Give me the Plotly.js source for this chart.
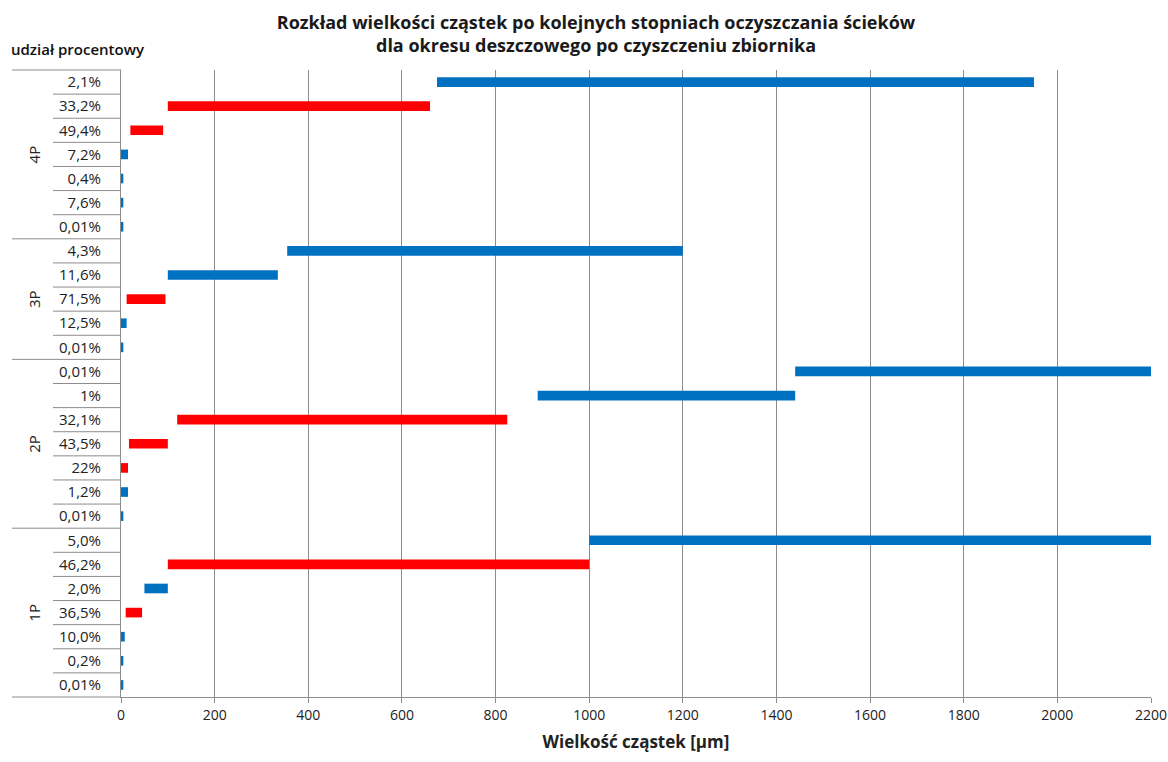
<!DOCTYPE html>
<html><head><meta charset="utf-8">
<script src="https://cdn.plot.ly/plotly-3.0.1.min.js"></script>
<style>html,body{margin:0;padding:0;background:#fff}#chart{width:1168px;height:762px}</style>
</head><body><div id="chart"></div>
<script>
// Data (top row first)
const groupNames = ['4P','3P','2P','1P'];
const groupSizes = [7,5,7,7];
const rowLabels = ['2,1%','33,2%','49,4%','7,2%','0,4%','7,6%','0,01%',
                   '4,3%','11,6%','71,5%','12,5%','0,01%',
                   '0,01%','1%','32,1%','43,5%','22%','1,2%','0,01%',
                   '5,0%','46,2%','2,0%','36,5%','10,0%','0,2%','0,01%'];
const rangeStart = [675,100,20,0,0,0,0,
                    355,100,12,0,0,
                    1440,890,120,17,0,0,0,
                    1000,100,50,10,0,0,0];
const rangeEnd = [1950,660,90,15,5,5,5,
                  1200,335,95,12,5,
                  2200,1440,825,100,15,15,5,
                  2200,1000,100,45,8,5,5];
const seriesKind = ['b','r','r','b','b','b','b',
                    'b','b','r','b','b',
                    'b','b','r','r','r','b','b',
                    'b','r','b','r','b','b','b'];
const xTicks = [0,200,400,600,800,1000,1200,1400,1600,1800,2000,2200];

const nRows = rowLabels.length;
const idx = rowLabels.map((_, i) => i);
function makeTrace(kind, color) {
  const y = [], x = [], base = [];
  idx.forEach(i => { if (seriesKind[i] === kind) { y.push(i); base.push(rangeStart[i]); x.push(rangeEnd[i] - rangeStart[i]); } });
  return {type:'bar', orientation:'h', y:y, x:x, base:base, width:0.4,
          marker:{color:color, line:{width:0}}, hoverinfo:'skip', showlegend:false};
}
const traces = [makeTrace('b','#0070C0'), makeTrace('r','#FF0000')];

const FONT = 'Open Sans, sans-serif';
const plotLeft = 121, plotWidth = 1030;
const pxToPaperX = px => (px - plotLeft) / plotWidth;
const rowFrac = i => 1 - i / nRows; // paper y of boundary above row i
const shapes = [];
const annotations = [];
let start = 0;
groupSizes.forEach((size, g) => {
  shapes.push({type:'line', xref:'paper', yref:'paper', x0:pxToPaperX(12), x1:0, y0:rowFrac(start), y1:rowFrac(start), line:{color:'#8c8c8c', width:1}});
  for (let k = 1; k < size; k++) {
    const r = start + k;
    shapes.push({type:'line', xref:'paper', yref:'paper', x0:pxToPaperX(53), x1:0, y0:rowFrac(r), y1:rowFrac(r), line:{color:'#8c8c8c', width:1}});
  }
  annotations.push({xref:'paper', yref:'y', x:pxToPaperX(22), y:start + (size - 1) / 2, text:groupNames[g],
    textangle:-90, showarrow:false, font:{family:FONT, size:15, color:'#222'}});
  start += size;
});
shapes.push({type:'line', xref:'paper', yref:'paper', x0:pxToPaperX(12), x1:0, y0:0, y1:0, line:{color:'#8c8c8c', width:1}});
annotations.push({xref:'paper', yref:'paper', x:pxToPaperX(9), y:1 + 21/627, xanchor:'left', yanchor:'middle',
  text:'udział procentowy', showarrow:false, font:{family:FONT, size:15, weight:600, color:'#111'}});

const layout = {
  width:1168, height:762,
  margin:{l:121, r:17, t:70, b:65},
  paper_bgcolor:'#fff', plot_bgcolor:'#fff',
  title:{text:'<b>Rozkład wielkości cząstek po kolejnych stopniach oczyszczania ścieków<br>dla okresu deszczowego po czyszczeniu zbiornika</b>',
    font:{family:FONT, size:18, color:'#1a1a1a'}, x:(596-121)/1030, xref:'paper', xanchor:'center',
    yref:'container', y:1 - 29/762, yanchor:'middle'},
  xaxis:{range:[0,2200], tickvals:xTicks, ticktext:xTicks.map(String), showgrid:true, gridcolor:'#8c8c8c', gridwidth:1,
    showline:true, linecolor:'#8c8c8c', linewidth:1, ticks:'outside', ticklen:5, tickcolor:'#8c8c8c',
    zeroline:false, tickfont:{family:FONT, size:14, color:'#222'},
    title:{text:'<b>Wielkość cząstek [µm]</b>', font:{family:FONT, size:17, color:'#222'}, standoff:13}},
  yaxis:{range:[nRows - 0.5, -0.5], tickvals:idx, ticktext:rowLabels, showgrid:false, zeroline:false,
    showline:true, linecolor:'#8c8c8c', linewidth:1, ticks:'', ticklabelstandoff:16,
    tickfont:{family:FONT, size:15, color:'#222'}},
  shapes:shapes, annotations:annotations
};
Plotly.newPlot('chart', traces, layout, {displayModeBar:false});
</script></body></html>
